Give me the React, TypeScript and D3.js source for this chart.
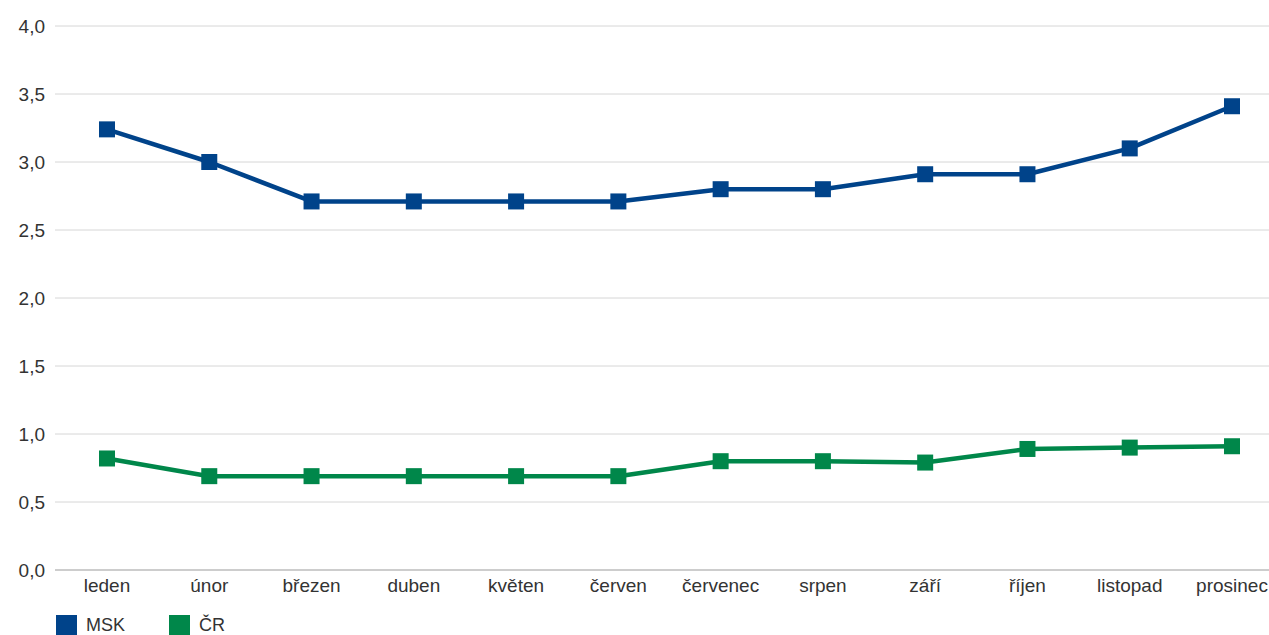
import React from "react";
import * as d3 from "d3";

const categories = ["leden", "únor", "březen", "duben", "květen", "červen", "červenec", "srpen", "září", "říjen", "listopad", "prosinec"];
const msk = [3.24, 3.0, 2.71, 2.71, 2.71, 2.71, 2.8, 2.8, 2.91, 2.91, 3.1, 3.41];
const cr = [0.82, 0.69, 0.69, 0.69, 0.69, 0.69, 0.8, 0.8, 0.79, 0.89, 0.9, 0.91];
const yTicks = [0, 0.5, 1, 1.5, 2, 2.5, 3, 3.5, 4];
const seriesNames = ["MSK", "ČR"];
const colors = ["#00438a", "#00874a"];

export default function App() {
  const W = 1269, H = 635;
  const x = d3.scalePoint<string>().domain(categories).range([107, 1232]);
  const y = d3.scaleLinear().domain([0, 4]).range([570, 26]);
  const line = d3.line<number>().x((_, i) => x(categories[i])!).y((d) => y(d));
  const font = "'Liberation Sans', Arial, Helvetica, sans-serif";
  const series = [msk, cr];
  return (
    <svg width={W} height={H} style={{ position: "absolute", left: 0, top: 0, display: "block" }} fontFamily={font}>
      <rect width={W} height={H} fill="#fff" />
      {yTicks.map((t) => (
        <g key={t}>
          <line x1={55} x2={W} y1={y(t)} y2={y(t)} stroke={t === 0 ? "#bdbdbd" : "#d6d6d6"} strokeWidth={t === 0 ? 1.5 : 1} />
          <text x={45} y={y(t)} dy="0.35em" textAnchor="end" fontSize={19} fill="#333">
            {d3.format(".1f")(t).replace(".", ",")}
          </text>
        </g>
      ))}
      {categories.map((c) => (
        <text key={c} x={x(c)} y={592} textAnchor="middle" fontSize={19} fill="#333">{c}</text>
      ))}
      {series.map((s, si) => (
        <g key={si}>
          <path d={line(s)!} fill="none" stroke={colors[si]} strokeWidth={4.5} strokeLinejoin="round" />
          {s.map((v, i) => (
            <rect key={i} x={x(categories[i])! - 8} y={y(v) - 8} width={16} height={16} fill={colors[si]} />
          ))}
        </g>
      ))}
      {seriesNames.map((n, i) => (
        <g key={n} transform={`translate(${56 + i * 113},615)`}>
          <rect width={21} height={20} fill={colors[i]} />
          <text x={30} y={16} fontSize={18} fill="#333">{n}</text>
        </g>
      ))}
    </svg>
  );
}
